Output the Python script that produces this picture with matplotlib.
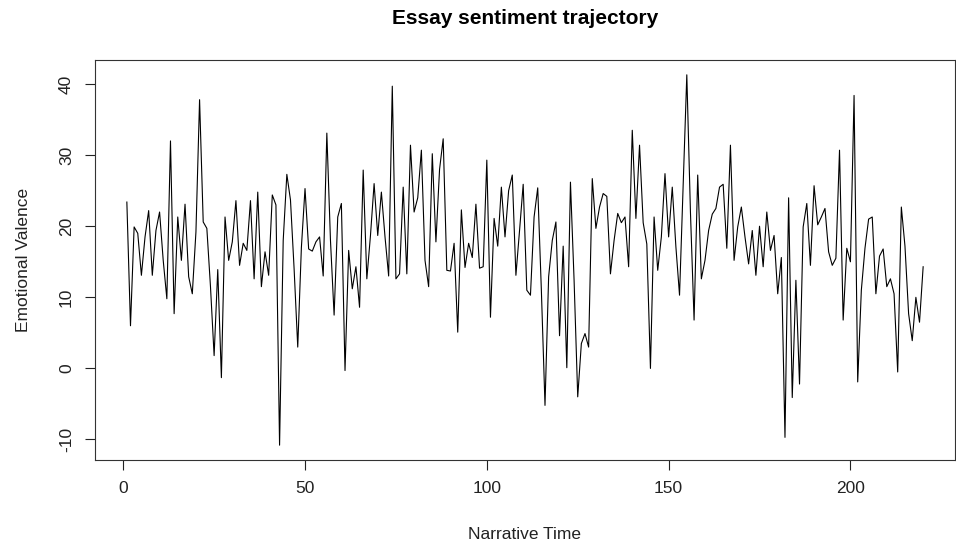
import numpy as np
import matplotlib
matplotlib.use("Agg")
import matplotlib.pyplot as plt

plt.rcParams["font.family"] = ["Liberation Sans", "DejaVu Sans"]
plt.rcParams["axes.unicode_minus"] = False

# sentiment values, one per narrative step
valence = [
    23.4, 6.0, 19.9, 19.0, 13.1, 18.5, 22.2, 13.1, 19.4, 22.0,
    15.2, 9.8, 32.0, 7.7, 21.3, 15.2, 23.1, 12.9, 10.5, 19.2,
    37.8, 20.6, 19.7, 11.5, 1.8, 13.9, -1.3, 21.3, 15.2, 17.8,
    23.6, 14.5, 17.6, 16.6, 23.6, 12.6, 24.8, 11.5, 16.4, 13.1,
    24.4, 23.0, -10.8, 18.0, 27.3, 23.7, 14.0, 3.0, 17.0, 25.3,
    16.8, 16.5, 17.8, 18.5, 13.0, 33.1, 18.0, 7.5, 21.3, 23.2,
    -0.3, 16.6, 11.2, 14.3, 8.6, 27.9, 12.6, 18.7, 26.0, 18.7,
    24.8, 18.5, 13.0, 39.7, 12.6, 13.3, 25.5, 13.3, 31.4, 22.0,
    24.0, 30.7, 15.2, 11.5, 30.2, 17.8, 28.0, 32.3, 13.8, 13.7,
    17.6, 5.1, 22.3, 14.2, 17.6, 15.6, 23.1, 14.1, 14.3, 29.3,
    7.2, 21.1, 17.2, 25.5, 18.5, 25.0, 27.2, 13.1, 19.4, 25.9,
    11.0, 10.3, 21.3, 25.4, 11.0, -5.2, 12.9, 18.0, 20.6, 4.6,
    17.2, 0.1, 26.2, 12.4, -4.0, 3.5, 4.9, 3.0, 26.7, 19.7,
    22.7, 24.6, 24.2, 13.3, 18.0, 21.8, 20.5, 21.3, 14.3, 33.5,
    21.1, 31.4, 20.5, 17.5, 0.0, 21.3, 13.8, 18.5, 27.4, 18.5,
    25.5, 17.1, 10.3, 26.0, 41.3, 22.0, 6.8, 27.2, 12.6, 15.2,
    19.4, 21.7, 22.5, 25.5, 25.9, 16.9, 31.4, 15.2, 19.9, 22.7,
    18.5, 14.7, 19.4, 13.1, 20.0, 14.3, 22.0, 16.6, 18.7, 10.5,
    15.6, -9.7, 24.0, -4.1, 12.4, -2.2, 19.9, 23.2, 14.5, 25.7,
    20.2, 21.3, 22.5, 16.4, 14.5, 15.5, 30.7, 6.8, 16.9, 15.0,
    38.4, -1.9, 11.0, 16.9, 21.0, 21.3, 10.5, 15.8, 16.8, 11.5,
    12.6, 10.5, -0.5, 22.7, 17.2, 7.7, 3.9, 10.0, 6.5, 14.3,
]
time = np.arange(1, len(valence) + 1)
x_ticks = [0, 50, 100, 150, 200]
y_ticks = [-10, 0, 10, 20, 30, 40]

fig = plt.figure(figsize=(9.56, 5.46), dpi=100)
ax = fig.add_axes([95 / 956, 1 - 460 / 546, 860 / 956, 400 / 546])

ax.plot(time, valence, color="black", linewidth=0.8)

# R-style 4% padding around the data range
def pad(lo, hi):
    d = (hi - lo) * 0.04
    return lo - d, hi + d

ax.set_xlim(*pad(time.min(), time.max()))
ax.set_ylim(*pad(min(valence), max(valence)))

ax.set_xticks(x_ticks)
ax.set_yticks(y_ticks)
ax.tick_params(direction="out", length=7.2, width=0.8, labelsize=12.5,
               colors="#222222", pad=8)
for lab in ax.get_yticklabels():
    lab.set_rotation(90)
    lab.set_va("center")
for s in ax.spines.values():
    s.set_linewidth(0.8)
    s.set_color("#333333")

ax.set_title("Essay sentiment trajectory", fontsize=15, fontweight="bold",
             pad=26)
ax.set_xlabel("Narrative Time", fontsize=12.5, labelpad=22, color="#222222")
ax.set_ylabel("Emotional Valence", fontsize=12.5, labelpad=20, color="#222222")

fig.savefig("out.png", dpi=100)
